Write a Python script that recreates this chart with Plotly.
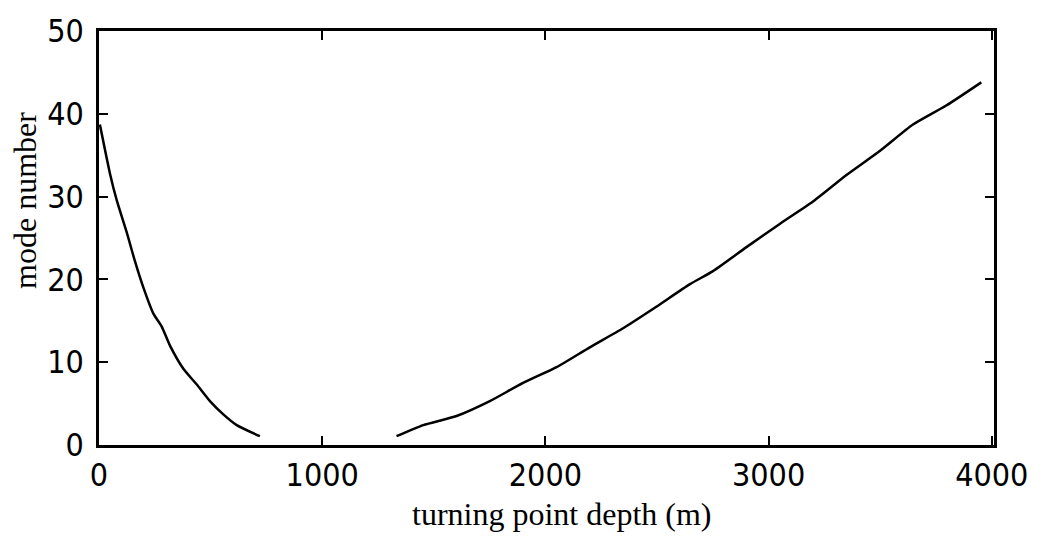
import plotly.graph_objects as go

# Left branch (shallow turning points)
left_depth = [4, 49, 79, 124, 161, 199, 243, 281, 318, 378, 438, 497, 557, 617, 721]
left_mode = [38.7, 32.8, 29.6, 25.7, 22.2, 19.0, 15.9, 14.3, 12.0, 9.2, 7.3, 5.3, 3.7, 2.4, 1.06]

# Right branch (deep turning points)
right_depth = [1333, 1453, 1602, 1751, 1900, 2050, 2199, 2348, 2497, 2646, 2751, 2901,
               3050, 3199, 3349, 3498, 3647, 3796, 3953]
right_mode = [1.06, 2.4, 3.5, 5.3, 7.5, 9.4, 11.8, 14.1, 16.7, 19.4, 21.0, 23.9,
              26.7, 29.4, 32.6, 35.5, 38.7, 41.0, 43.8]

x_ticks = [0, 1000, 2000, 3000, 4000]
y_ticks = [0, 10, 20, 30, 40, 50]

fig = go.Figure()
for xs, ys in [(left_depth, left_mode), (right_depth, right_mode)]:
    fig.add_trace(go.Scatter(x=xs, y=ys, mode="lines",
                             line=dict(color="black", width=2.5, shape="spline", smoothing=0.6),
                             showlegend=False, hoverinfo="skip"))

tick_font = dict(family="DejaVu Sans Condensed, DejaVu Sans, sans-serif", size=32, color="black")
common = dict(showgrid=False, zeroline=False, showline=True, linecolor="black", linewidth=2.5,
              mirror="ticks", ticks="inside", ticklen=9, tickwidth=2, tickcolor="black",
              tickfont=tick_font)

fig.update_xaxes(range=[0, 4010], tickvals=x_ticks, ticktext=[str(v) for v in x_ticks], **common)
fig.update_yaxes(range=[0, 50], tickvals=y_ticks, ticktext=[str(v) for v in y_ticks],
                 ticklabelstandoff=6, **common)

label_font = dict(family="Liberation Serif, Times New Roman, serif", size=32, color="black")
fig.add_annotation(text="turning point depth (m)", xref="paper", yref="paper",
                   x=(562 - 99) / (994 - 99), y=-(516 - 445) / (445 - 21),
                   showarrow=False, font=label_font, xanchor="center", yanchor="middle")
fig.add_annotation(text="mode number", xref="paper", yref="paper",
                   x=-(99 - 25) / (994 - 99), y=(445 - 195) / (445 - 21),
                   showarrow=False, font=label_font, textangle=-90,
                   xanchor="center", yanchor="middle")

fig.update_layout(width=1041, height=542, margin=dict(l=99, r=47, t=21, b=97),
                  paper_bgcolor="white", plot_bgcolor="white")

fig.write_html("out.html")
